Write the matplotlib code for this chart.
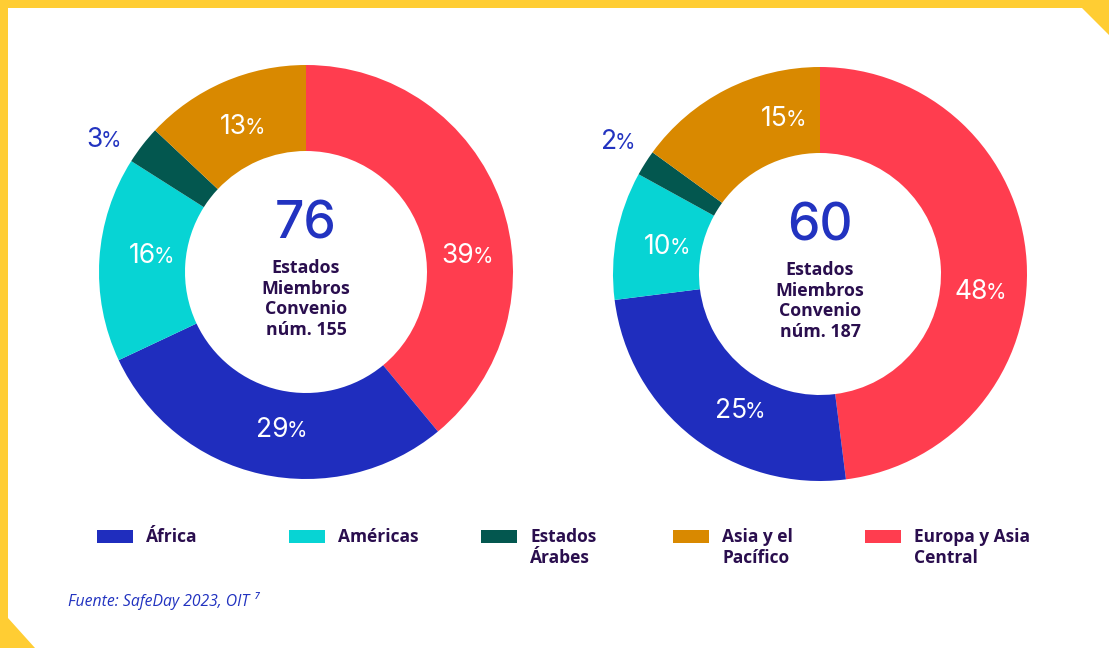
import numpy as np
import matplotlib.pyplot as plt
from matplotlib.patches import Rectangle, Polygon

# data
regions = ['África', 'Américas', 'Estados\nÁrabes', 'Asia y el\nPacífico', 'Europa y Asia\nCentral']
colors = ['#1f2dbe', '#07d4d4', '#03574f', '#d98900', '#ff3d4f']
share_155 = [29, 16, 3, 13, 39]
share_187 = [25, 10, 2, 15, 48]
totals = [76, 60]
conventions = ['155', '187']
source = 'Fuente: SafeDay 2023, OIT \u2077'

W, H = 1109, 648
dark = '#2a0e4e'
blue_txt = '#2233c0'
yellow = '#ffcd33'
num_font = 'Inter'

fig = plt.figure(figsize=(W / 100, H / 100), dpi=100)
ax = fig.add_axes([0, 0, 1, 1])

def Y(y):
    # pixel row (from top) -> axis y
    return H - y

# pie order: clockwise from 12 o'clock starting with Europa
order = [4, 0, 1, 2, 3]
R_OUT, R_IN = 207, 121
# small angular nudges (deg) for the in-ring labels, as in the original layout
nudges = [[14, -3, 2, 0, -2], [10, -7, -1, 0, 12]]

donuts = [(306, 272, share_155), (820, 274, share_187)]
for k, (cx, cy, shares) in enumerate(donuts):
    vals = [shares[i] for i in order]
    cols = [colors[i] for i in order]
    ax.pie(vals, colors=cols, center=(cx, Y(cy)), radius=R_OUT, startangle=90,
           counterclock=False, wedgeprops=dict(width=R_OUT - R_IN, linewidth=0),
           frame=True)
    cum = np.cumsum([0] + vals)
    for j, v in enumerate(vals):
        mid = (cum[j] + v / 2) / 100 * 360 + nudges[k][j]
        if v < 5:
            # small slices get an outside callout
            ang = np.deg2rad(302)
            r = 250
            col = blue_txt
        else:
            ang = np.deg2rad(mid)
            r = 160
            col = 'white'
        x = cx + r * np.sin(ang)
        y = Y(cy) + r * np.cos(ang)
        ax.text(x + 9, y, str(v), ha='right', va='center', fontsize=19,
                color=col, family=num_font)
        ax.text(x + 7, y - 1, '%', ha='left', va='center', fontsize=15,
                color=col, family=num_font)
    ax.text(cx, Y(cy - 47), str(totals[k]), ha='center', va='center',
            fontsize=37, fontweight='medium', color=blue_txt, family=num_font)
    ax.text(cx, Y(cy + 27), 'Estados\nMiembros\nConvenio\nnúm. ' + conventions[k],
            ha='center', va='center', fontsize=12.8, fontweight='bold', color=dark,
            family='Open Sans', linespacing=1.2)

# legend
leg_x = [97, 289, 481, 673, 865]
leg_text_dx = 49
for i, name in enumerate(regions):
    ax.add_patch(Rectangle((leg_x[i], Y(543)), 36, 13, color=colors[i], lw=0))
    ax.text(leg_x[i] + leg_text_dx, Y(528), name, ha='left', va='top', fontsize=12.5,
            fontweight='bold', color=dark, family='Open Sans', linespacing=1.2)

ax.text(68, Y(601), source, ha='left', va='center', fontsize=11.3,
        style='italic', color=blue_txt, family='Open Sans')

# yellow frame
ax.add_patch(Rectangle((0, Y(8)), W, 8, color=yellow, lw=0))
ax.add_patch(Rectangle((0, 0), 8, H, color=yellow, lw=0))
ax.add_patch(Polygon([(1082, Y(8)), (W, Y(8)), (W, Y(35))], color=yellow, lw=0))
ax.add_patch(Polygon([(8, Y(618)), (35, 0), (8, 0)], color=yellow, lw=0))

ax.set_xlim(0, W)
ax.set_ylim(0, H)
ax.set_aspect('equal')
ax.axis('off')
plt.savefig('out.png', dpi=100)
